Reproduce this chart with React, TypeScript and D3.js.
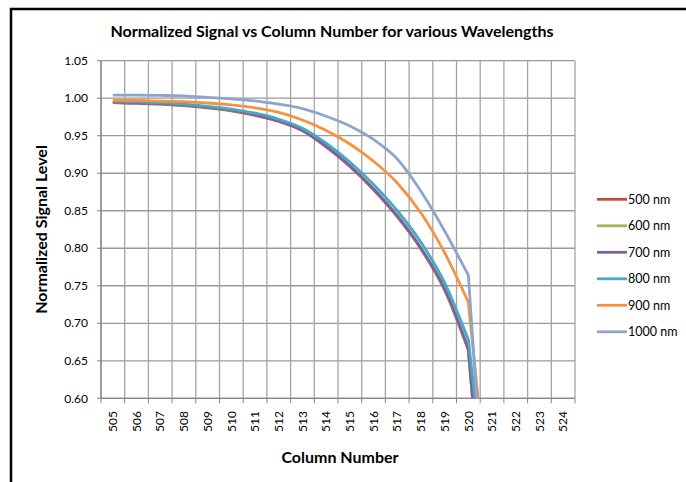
import React from "react";
import * as d3 from "d3";

const columns = [505, 506, 507, 508, 509, 510, 511, 512, 513, 514, 515, 516, 517, 518, 519, 520];
const dropColumn = 521;
const categoryTicks = [505, 506, 507, 508, 509, 510, 511, 512, 513, 514, 515, 516, 517, 518, 519, 520, 521, 522, 523, 524];
const yTicks = [0.6, 0.65, 0.7, 0.75, 0.8, 0.85, 0.9, 0.95, 1.0, 1.05];

const s500 = [0.994, 0.993, 0.992, 0.990, 0.987, 0.983, 0.977, 0.969, 0.957, 0.935, 0.909, 0.878, 0.842, 0.799, 0.744, 0.664];
const s600 = [0.995, 0.994, 0.993, 0.991, 0.988, 0.984, 0.978, 0.970, 0.958, 0.936, 0.910, 0.879, 0.843, 0.800, 0.745, 0.665];
const s700 = [0.995, 0.994, 0.993, 0.991, 0.988, 0.984, 0.978, 0.970, 0.957, 0.936, 0.910, 0.879, 0.843, 0.800, 0.746, 0.666];
const s800 = [0.996, 0.995, 0.994, 0.992, 0.989, 0.9856, 0.980, 0.972, 0.960, 0.940, 0.915, 0.885, 0.850, 0.808, 0.754, 0.678];
const s900 = [0.997, 0.997, 0.996, 0.9955, 0.9936, 0.991, 0.987, 0.981, 0.971, 0.957, 0.939, 0.916, 0.887, 0.847, 0.794, 0.728];
const s1000 = [1.004, 1.004, 1.0037, 1.003, 1.001, 0.999, 0.9965, 0.992, 0.986, 0.976, 0.963, 0.945, 0.919, 0.876, 0.823, 0.764];
const dropValues = [0.30, 0.30, 0.30, 0.40, 0.416, 0.30];

const seriesNames = ["500 nm", "600 nm", "700 nm", "800 nm", "900 nm", "1000 nm"];
const seriesValues = [s500, s600, s700, s800, s900, s1000];
const seriesColors = ["#BE4B48", "#98B954", "#7D60A0", "#46AAC5", "#F69240", "#8EA5CB"];

const W = 686;
const H = 482;
const plot = { left: 101, right: 575, top: 60.7, bottom: 398.3 };
const FONT = "Lato, 'Open Sans', sans-serif";

export default function App() {
  const x = d3.scaleLinear().domain([504.5, 524.5]).range([plot.left, plot.right]);
  const y = d3.scaleLinear().domain([0.6, 1.05]).range([plot.bottom, plot.top]);
  const smooth = d3
    .line<[number, number]>()
    .x((d) => x(d[0]))
    .y((d) => y(d[1]))
    .curve(d3.curveMonotoneX);

  const boundaries = d3.range(504.5, 525, 1);

  const pathFor = (vals: number[], i: number) => {
    const head = smooth(columns.map((c, j) => [c, vals[j]] as [number, number])) || "";
    return `${head}L${x(dropColumn)},${y(dropValues[i])}`;
  };

  return (
    <svg
      width={W}
      height={H}
      style={{ position: "absolute", left: 0, top: 0, background: "#fff" }}
      fontFamily={FONT}
    >
      <defs>
        <clipPath id="plotclip">
          <rect x={plot.left} y={plot.top - 2} width={plot.right - plot.left} height={plot.bottom - plot.top + 2} />
        </clipPath>
      </defs>
      <rect x={0} y={0} width={W} height={H} fill="#fff" />
      <rect x={11} y={9} width={720} height={520} fill="none" stroke="#000" strokeWidth={2.5} />

      <text x={332} y={37} textAnchor="middle" fontSize={16} fontWeight="bold" fill="#000">
        Normalized Signal vs Column Number for various Wavelengths
      </text>

      {yTicks.map((t) => (
        <line key={"h" + t} x1={plot.left} x2={plot.right} y1={y(t)} y2={y(t)} stroke="#9a9a9a" strokeWidth={1.3} />
      ))}
      {boundaries.map((b) => (
        <line key={"v" + b} x1={x(b)} x2={x(b)} y1={plot.top} y2={plot.bottom} stroke="#a4a4a4" strokeWidth={1.3} />
      ))}
      <line x1={plot.left} x2={plot.left} y1={plot.top} y2={plot.bottom} stroke="#868686" strokeWidth={1.3} />
      <line x1={plot.left} x2={plot.right} y1={plot.bottom} y2={plot.bottom} stroke="#868686" strokeWidth={1.3} />
      {yTicks.map((t) => (
        <g key={"yt" + t}>
          <line x1={plot.left - 4} x2={plot.left} y1={y(t)} y2={y(t)} stroke="#868686" />
          <text x={88} y={y(t)} dy="0.35em" textAnchor="end" fontSize={12} fill="#000">
            {d3.format(".2f")(t)}
          </text>
        </g>
      ))}
      {boundaries.map((b) => (
        <line key={"xt" + b} x1={x(b)} x2={x(b)} y1={plot.bottom} y2={plot.bottom + 5} stroke="#868686" />
      ))}
      {categoryTicks.map((c) => (
        <text
          key={"xl" + c}
          transform={`translate(${x(c)},${411}) rotate(-90)`}
          textAnchor="end"
          dy="0.35em"
          fontSize={12}
          fill="#000"
        >
          {c}
        </text>
      ))}

      <g clipPath="url(#plotclip)">
        {seriesValues.map((vals, i) => (
          <path
            key={seriesNames[i]}
            d={pathFor(vals, i)}
            fill="none"
            stroke={seriesColors[i]}
            strokeWidth={2.8}
            strokeLinejoin="round"
          />
        ))}
      </g>

      <text
        transform={`translate(47,${(plot.top + plot.bottom) / 2}) rotate(-90)`}
        textAnchor="middle"
        fontSize={16}
        fontWeight="bold"
        fill="#000"
      >
        Normalized Signal Level
      </text>
      <text x={340} y={463} textAnchor="middle" fontSize={16} fontWeight="bold" fill="#000">
        Column Number
      </text>

      {seriesNames.map((n, i) => {
        const ly = 199.3 + i * 26.5;
        return (
          <g key={"lg" + n}>
            <line x1={597} x2={627} y1={ly} y2={ly} stroke={seriesColors[i]} strokeWidth={2.8} />
            <text x={628} y={ly} dy="0.35em" fontSize={12.5} fill="#000">
              {n}
            </text>
          </g>
        );
      })}
    </svg>
  );
}
